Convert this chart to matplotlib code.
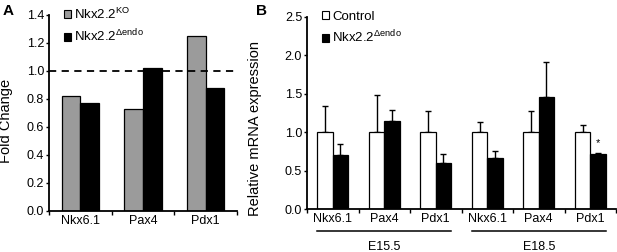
import matplotlib
matplotlib.use("Agg")
import matplotlib.pyplot as plt
import matplotlib.transforms as mtransforms
from matplotlib.patches import Patch

plt.rcParams["font.family"] = ["Liberation Sans", "DejaVu Sans"]
plt.rcParams["mathtext.fontset"] = "custom"
plt.rcParams["mathtext.rm"] = "Liberation Sans"
plt.rcParams["mathtext.it"] = "Liberation Sans"

# data
genes = ["Nkx6.1", "Pax4", "Pdx1"]
a_ko = [0.82, 0.73, 1.25]
a_endo = [0.77, 1.02, 0.88]

b_labels = genes * 2
b_ctrl = [1.0, 1.0, 1.0, 1.0, 1.0, 1.0]
b_ctrl_err = [0.34, 0.48, 0.27, 0.13, 0.27, 0.09]
b_endo = [0.70, 1.14, 0.60, 0.67, 1.46, 0.71]
b_endo_err = [0.14, 0.15, 0.11, 0.09, 0.46, 0.015]
stages = ["E15.5", "E18.5"]

W = 0.3
GRAY = "#9b9b9b"

fig = plt.figure(figsize=(6.17, 2.52), dpi=100)
axA = fig.add_axes([0.0794, 0.1627, 0.3047, 0.778])
axB = fig.add_axes([0.4976, 0.1706, 0.5008, 0.762])


def style(ax):
    for s in ("top", "right"):
        ax.spines[s].set_visible(False)
    for s in ("left", "bottom"):
        ax.spines[s].set_linewidth(1.3)
    ax.tick_params(axis="y", direction="out", length=2.5, width=1, labelsize=9, pad=1)
    ax.tick_params(axis="x", which="major", length=0, labelsize=9, pad=3)
    ax.tick_params(axis="x", which="minor", direction="out", length=3, width=1)


# ---- panel A
xa = list(range(len(genes)))
axA.bar([i - W / 2 for i in xa], a_ko, W, color=GRAY, edgecolor="black", linewidth=0.9)
axA.bar([i + W / 2 for i in xa], a_endo, W, color="black", edgecolor="black", linewidth=0.9)
axA.axhline(1.0, color="black", lw=1.3, ls=(0, (4, 3)))
axA.set_xlim(-0.5, 2.5)
axA.set_ylim(0, 1.4)
axA.set_yticks([0, 0.2, 0.4, 0.6, 0.8, 1.0, 1.2, 1.4])
axA.set_yticklabels(["%.1f" % v for v in axA.get_yticks()])
axA.set_xticks(xa)
axA.set_xticklabels(genes)
axA.set_xticks([-0.5, 0.5, 1.5, 2.5], minor=True)
style(axA)
axA.set_ylabel("Fold Change", fontsize=10.5)
axA.yaxis.set_label_coords(-0.19, 0.46)
axA.legend(handles=[Patch(facecolor=GRAY, edgecolor="black", lw=0.8),
                    Patch(facecolor="black", edgecolor="black", lw=0.8)],
           labels=[r"Nkx2.2$^{\mathrm{KO}}$", r"Nkx2.2$^{\Delta\mathrm{endo}}$"],
           loc="upper left", bbox_to_anchor=(0.05, 1.07), frameon=False,
           fontsize=9.5, handlelength=0.55, handleheight=0.55,
           handletextpad=0.25, labelspacing=0.45, borderaxespad=0)

# ---- panel B
xb = list(range(len(b_labels)))
xc = [i - W / 2 for i in xb]
xe = [i + W / 2 for i in xb]
axB.bar(xc, b_ctrl, W, color="white", edgecolor="black", linewidth=0.9, zorder=2)
axB.bar(xe, b_endo, W, color="black", edgecolor="black", linewidth=0.9, zorder=2)
axB.errorbar(xc, b_ctrl, yerr=[[0] * len(b_ctrl), b_ctrl_err], fmt="none",
             ecolor="black", elinewidth=1, capsize=2.5, capthick=1, zorder=1)
axB.errorbar(xe, b_endo, yerr=[[0] * len(b_endo), b_endo_err], fmt="none",
             ecolor="black", elinewidth=1, capsize=2.5, capthick=1, zorder=1)
axB.text(xe[5], 0.86, "*", ha="center", va="center", fontsize=8)
axB.set_xlim(-0.5, 5.5)
axB.set_ylim(0, 2.5)
axB.set_yticks([0, 0.5, 1.0, 1.5, 2.0, 2.5])
axB.set_yticklabels(["%.1f" % v for v in axB.get_yticks()])
axB.set_xticks(xb)
axB.set_xticklabels(b_labels)
axB.set_xticks([i - 0.5 for i in range(len(b_labels) + 1)], minor=True)
style(axB)
axB.set_ylabel("Relative mRNA expression", fontsize=10.5)
axB.yaxis.set_label_coords(-0.146, 0.42)
axB.legend(handles=[Patch(facecolor="white", edgecolor="black", lw=0.8),
                    Patch(facecolor="black", edgecolor="black", lw=0.8)],
           labels=["Control", r"Nkx2.2$^{\Delta\mathrm{endo}}$"],
           loc="upper left", bbox_to_anchor=(0.03, 1.06), frameon=False,
           fontsize=9.5, handlelength=0.55, handleheight=0.55,
           handletextpad=0.25, labelspacing=0.45, borderaxespad=0)

trans = mtransforms.blended_transform_factory(axB.transData, axB.transAxes)
for k, st in enumerate(stages):
    x0 = 3 * k - W
    x1 = 3 * k + 2 + W
    axB.plot([x0, x1], [-0.115, -0.115], color="black", lw=1.1,
             transform=trans, clip_on=False)
    axB.text((x0 + x1) / 2, -0.2, st, transform=trans, ha="center",
             va="center", fontsize=9)

fig.text(0.004, 0.955, "A", fontsize=11, fontweight="bold", va="center")
fig.text(0.415, 0.955, "B", fontsize=11, fontweight="bold", va="center")

fig.savefig("out.png", dpi=100)
